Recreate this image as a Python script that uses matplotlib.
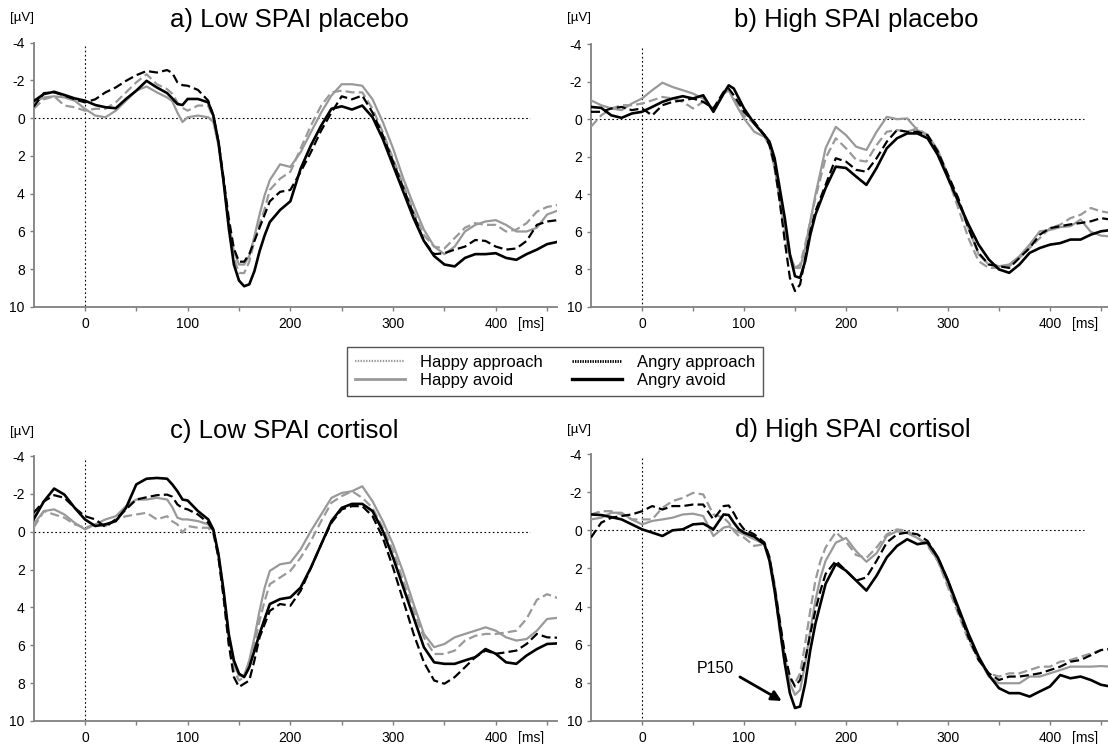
import matplotlib
matplotlib.use('Agg')
import matplotlib.pyplot as plt
from matplotlib.lines import Line2D
from matplotlib.transforms import blended_transform_factory

plt.rcParams['font.family'] = ['Liberation Sans', 'DejaVu Sans']
plt.rcParams['lines.scale_dashes'] = False

# ---------------- data ----------------
time_ms = [-50, -40, -30, -20, -10, 0, 10, 20, 30, 40, 50, 60, 70, 80, 85, 90, 95, 100, 110, 120,
           125, 130, 135, 140, 145, 150, 155, 160, 165, 170, 175, 180,
           190, 200, 210, 220, 230, 240, 250, 260, 270, 280, 290, 300, 310, 320, 330, 340,
           350, 360, 370, 380, 390, 400, 410, 420, 430, 440, 450, 460]

series_labels = ['Happy approach', 'Happy avoid', 'Angry approach', 'Angry avoid']
panel_titles = ['a) Low SPAI placebo', 'b) High SPAI placebo', 'c) Low SPAI cortisol', 'd) High SPAI cortisol']

x_ticks = [0, 50, 100, 150, 200, 250, 300, 350, 400, 450]
x_tick_labels = ['0', '', '100', '', '200', '', '300', '', '400', '']
y_ticks = [-4, -2, 0, 2, 4, 6, 8, 10]

# a) Low SPAI placebo
a_happy_approach = [-0.5, -1.0, -1.16, -0.67, -0.58, -0.4, -0.5, -0.5, -0.84, -1.37, -1.9, -2.33, -1.8, -1.54, -1.3, -0.84, -0.55, -0.4, -0.67, -0.67,
                    0.03, 1.26, 3.37, 5.65, 7.4, 8.2, 8.2, 7.6, 6.5, 5.6, 4.8, 3.8,
                    3.2, 2.84, 1.6, 0.39, -0.67, -1.37, -1.46, -1.37, -1.37, -0.5, 0.74, 2.14, 3.54, 4.95, 6.2, 6.8,
                    6.9, 6.35, 5.8, 5.56, 5.65, 5.65, 6.0, 5.9, 5.56, 4.95, 4.7, 4.6]
a_happy_avoid = [-0.84, -1.1, -1.16, -1.1, -0.93, -0.5, -0.14, -0.05, -0.4, -0.93, -1.46, -1.68, -1.37, -1.1, -0.9, -0.3, 0.2, -0.05, -0.14, -0.05,
                 0.2, 1.44, 3.37, 5.5, 7.05, 7.75, 7.75, 7.3, 6.26, 5.1, 4.07, 3.28,
                 2.44, 2.58, 1.8, 0.74, -0.3, -1.2, -1.8, -1.8, -1.72, -1.0, 0.2, 1.6, 3.2, 4.6, 5.9, 6.8,
                 7.2, 6.8, 6.0, 5.65, 5.47, 5.4, 5.65, 6.0, 6.0, 5.8, 5.1, 4.9]
a_angry_approach = [-0.6, -1.33, -1.37, -1.2, -1.0, -0.84, -1.0, -1.37, -1.63, -1.98, -2.28, -2.5, -2.42, -2.55, -2.4, -1.9, -1.75, -1.72, -1.5, -0.93,
                    -0.14, 1.26, 3.2, 5.3, 6.9, 7.6, 7.6, 7.2, 6.5, 5.8, 5.1, 4.4,
                    3.9, 3.8, 2.84, 1.8, 0.65, -0.3, -1.16, -1.0, -1.2, -0.3, 0.9, 2.3, 3.7, 5.1, 6.5, 7.2,
                    7.15, 6.96, 6.8, 6.45, 6.5, 6.8, 6.96, 6.9, 6.5, 5.65, 5.47, 5.4]
a_angry_avoid = [-0.9, -1.28, -1.4, -1.23, -1.05, -0.93, -0.7, -0.58, -0.53, -1.02, -1.46, -1.98, -1.63, -1.33, -1.05, -0.75, -0.7, -1.02, -1.02, -0.84,
                 -0.14, 1.26, 3.37, 5.8, 7.75, 8.6, 8.9, 8.8, 8.1, 7.05, 6.2, 5.5,
                 4.86, 4.4, 2.67, 1.44, 0.39, -0.5, -0.63, -0.46, -0.67, -0.05, 1.1, 2.5, 3.9, 5.3, 6.5, 7.3,
                 7.75, 7.85, 7.4, 7.2, 7.2, 7.15, 7.4, 7.5, 7.2, 6.96, 6.67, 6.55]

# b) High SPAI placebo
b_happy_approach = [0.4, -0.2, -0.57, -0.74, -0.74, -0.83, -1.0, -1.18, -1.1, -0.92, -0.57, -0.92, -0.57, -1.36, -1.54, -1.1, -0.65, -0.2, 0.23, 0.85,
                    1.38, 2.6, 4.38, 6.15, 7.39, 7.92, 7.74, 6.68, 5.44, 4.2, 3.14, 2.08,
                    1.02, 1.55, 2.17, 2.26, 1.38, 0.67, 0.58, 0.67, 0.49, 0.85, 1.9, 3.14, 4.73, 6.33, 7.56, 7.92,
                    7.92, 7.83, 7.39, 6.86, 6.33, 5.8, 5.62, 5.27, 5.09, 4.73, 4.91, 5.0]
b_happy_avoid = [-1.0, -0.74, -0.57, -0.48, -0.83, -1.1, -1.54, -1.94, -1.71, -1.54, -1.36, -1.1, -0.48, -1.36, -1.54, -1.0, -0.5, -0.04, 0.67, 0.94,
                 1.38, 2.6, 4.2, 5.8, 7.2, 7.92, 7.92, 6.86, 5.44, 4.03, 2.8, 1.55,
                 0.41, 0.85, 1.47, 1.64, 0.67, -0.12, 0.0, -0.04, 0.58, 0.85, 1.64, 2.97, 4.38, 5.8, 7.2, 7.74,
                 7.83, 7.74, 7.3, 6.68, 5.97, 5.9, 5.75, 5.7, 5.35, 6.0, 6.2, 6.25]
b_angry_approach = [-0.39, -0.39, -0.57, -0.65, -0.48, -0.57, -0.2, -0.74, -0.92, -1.0, -1.1, -0.92, -0.57, -1.45, -1.63, -1.27, -0.85, -0.39, 0.14, 0.85,
                    1.38, 2.44, 4.38, 6.5, 8.45, 9.15, 8.8, 7.39, 5.97, 4.91, 4.2, 3.5,
                    2.08, 2.26, 2.7, 2.8, 2.08, 1.2, 0.58, 0.67, 0.67, 0.85, 1.73, 2.97, 4.2, 5.8, 7.12, 7.74,
                    7.83, 7.92, 7.39, 6.86, 6.15, 5.8, 5.7, 5.6, 5.53, 5.44, 5.27, 5.35]
b_angry_avoid = [-0.65, -0.6, -0.2, -0.07, -0.3, -0.39, -0.65, -0.92, -1.1, -1.22, -1.1, -1.27, -0.39, -1.36, -1.8, -1.63, -1.1, -0.57, 0.23, 0.85,
                 1.2, 2.08, 3.67, 5.27, 7.2, 8.36, 8.45, 7.56, 6.15, 5.09, 4.38, 3.67,
                 2.53, 2.6, 3.06, 3.5, 2.6, 1.55, 1.02, 0.76, 0.76, 1.02, 1.9, 3.14, 4.38, 5.6, 6.68, 7.47,
                 8.0, 8.18, 7.74, 7.12, 6.86, 6.68, 6.6, 6.41, 6.41, 6.15, 5.97, 5.9]

# c) Low SPAI cortisol
c_happy_approach = [-0.21, -1.09, -0.91, -0.74, -0.39, -0.21, -0.39, -0.3, -0.65, -0.82, -0.91, -1.0, -0.65, -0.82, -0.55, -0.39, 0.05, -0.3, -0.21, -0.21,
                    0.14, 1.37, 3.47, 5.93, 7.33, 7.86, 7.68, 7.16, 5.93, 4.7, 3.65, 2.77,
                    2.42, 2.07, 1.37, 0.49, -0.56, -1.53, -1.88, -2.14, -1.79, -1.26, -0.21, 1.02, 2.6, 4.18, 5.58, 6.46,
                    6.46, 6.28, 5.75, 5.5, 5.4, 5.4, 5.32, 5.23, 4.6, 3.6, 3.3, 3.5]
c_happy_avoid = [-0.39, -1.09, -1.18, -0.91, -0.47, -0.12, -0.39, -0.65, -0.82, -1.35, -1.7, -1.7, -1.79, -1.7, -1.3, -0.74, -0.65, -0.65, -0.56, -0.39,
                 -0.04, 1.19, 3.12, 5.58, 6.98, 7.6, 7.6, 6.8, 5.58, 4.18, 2.95, 2.07,
                 1.72, 1.63, 0.93, -0.04, -0.91, -1.79, -2.05, -2.14, -2.4, -1.61, -0.56, 0.67, 2.16, 3.82, 5.4, 6.1,
                 5.93, 5.58, 5.4, 5.23, 5.05, 5.23, 5.58, 5.75, 5.67, 5.23, 4.61, 4.55]
c_angry_approach = [-1.0, -1.6, -1.93, -1.79, -1.26, -0.82, -0.65, -0.25, -0.65, -1.18, -1.7, -1.82, -1.93, -1.96, -1.85, -1.44, -1.25, -1.18, -0.91, -0.47,
                    -0.04, 1.37, 3.47, 5.93, 7.68, 8.2, 8.03, 7.86, 6.8, 5.58, 4.88, 4.18,
                    3.82, 3.91, 3.12, 1.9, 0.67, -0.47, -1.18, -1.35, -1.35, -0.82, 0.32, 1.9, 3.65, 5.4, 6.9, 7.86,
                    8.03, 7.68, 7.16, 6.63, 6.28, 6.45, 6.37, 6.28, 5.93, 5.4, 5.58, 5.6]
c_angry_avoid = [-0.65, -1.6, -2.28, -1.96, -1.26, -0.65, -0.3, -0.39, -0.56, -1.26, -2.5, -2.8, -2.84, -2.8, -2.5, -2.14, -1.7, -1.65, -1.09, -0.65,
                 -0.12, 1.19, 3.12, 5.4, 6.8, 7.5, 7.68, 7.16, 6.28, 5.4, 4.6, 3.82,
                 3.56, 3.47, 2.95, 1.9, 0.67, -0.56, -1.26, -1.47, -1.47, -1.09, -0.04, 1.37, 2.95, 4.53, 6.1, 6.9,
                 6.98, 6.98, 6.8, 6.63, 6.2, 6.45, 6.9, 6.98, 6.54, 6.2, 5.93, 5.9]

# d) High SPAI cortisol
d_happy_approach = [-0.83, -1.0, -1.0, -0.83, -0.57, -0.57, -0.57, -1.18, -1.53, -1.7, -1.96, -1.88, -0.83, -0.66, -0.4, 0.03, 0.3, 0.38, 0.82, 0.73,
                    1.42, 3.16, 5.24, 6.98, 7.85, 8.02, 7.5, 5.94, 4.2, 2.64, 1.6, 0.9,
                    0.1, 0.6, 1.3, 1.45, 0.9, 0.21, -0.05, 0.03, 0.38, 0.82, 1.6, 2.99, 4.38, 5.77, 6.8, 7.5,
                    7.67, 7.5, 7.5, 7.33, 7.15, 7.15, 6.89, 6.8, 6.63, 6.46, 6.28, 6.25]
d_happy_avoid = [-0.57, -0.66, -0.92, -0.92, -0.57, -0.31, -0.49, -0.57, -0.66, -0.83, -0.87, -0.75, 0.3, -0.14, -0.2, -0.05, 0.1, 0.21, 0.47, 0.73,
                 1.42, 2.81, 4.72, 6.63, 8.02, 8.63, 8.37, 6.98, 5.24, 3.68, 2.47, 1.6,
                 0.65, 0.4, 1.1, 1.65, 1.2, 0.3, 0.05, 0.15, 0.4, 0.73, 1.6, 2.81, 4.2, 5.59, 6.72, 7.67,
                 8.02, 8.02, 8.02, 7.67, 7.67, 7.5, 7.33, 7.15, 7.15, 7.15, 7.12, 7.15]
d_angry_approach = [0.38, -0.4, -0.66, -0.75, -0.83, -1.0, -1.27, -1.09, -1.27, -1.27, -1.35, -1.35, -0.57, -1.27, -1.3, -0.9, -0.4, -0.05, 0.21, 0.64,
                    1.42, 2.99, 4.72, 6.46, 7.67, 8.19, 7.85, 6.8, 5.42, 4.2, 3.16, 2.29,
                    1.6, 2.12, 2.64, 2.47, 1.6, 0.64, 0.21, 0.12, 0.21, 0.56, 1.42, 2.64, 4.2, 5.59, 6.8, 7.5,
                    7.85, 7.67, 7.67, 7.59, 7.5, 7.33, 7.15, 6.89, 6.8, 6.55, 6.28, 6.2]
d_angry_avoid = [-0.83, -0.8, -0.69, -0.57, -0.31, -0.05, 0.12, 0.3, 0.0, -0.05, -0.31, -0.35, -0.05, -0.83, -0.8, -0.4, -0.05, 0.12, 0.33, 0.73,
                 1.6, 3.16, 5.07, 6.98, 8.54, 9.32, 9.24, 8.02, 6.28, 4.9, 3.85, 2.81,
                 1.77, 2.12, 2.64, 3.16, 2.38, 1.42, 0.82, 0.47, 0.73, 0.64, 1.42, 2.64, 4.03, 5.42, 6.63, 7.59,
                 8.28, 8.54, 8.54, 8.72, 8.45, 8.19, 7.59, 7.76, 7.67, 7.85, 8.1, 8.2]

panel_data = [
    [a_happy_approach, a_happy_avoid, a_angry_approach, a_angry_avoid],
    [b_happy_approach, b_happy_avoid, b_angry_approach, b_angry_avoid],
    [c_happy_approach, c_happy_avoid, c_angry_approach, c_angry_avoid],
    [d_happy_approach, d_happy_avoid, d_angry_approach, d_angry_avoid],
]

# ---------------- style ----------------
GRAY = '#999999'
AXCOL = '#808080'
styles = [
    dict(color=GRAY, lw=1.6, dashes=(6.5, 3.0)),
    dict(color=GRAY, lw=1.6, linestyle='-'),
    dict(color='black', lw=1.6, dashes=(6.5, 3.0)),
    dict(color='black', lw=1.9, linestyle='-'),
]

W, H = 1108, 744
fig = plt.figure(figsize=(W / 100, H / 100), dpi=100)


def px_axes(left, top, right, bottom):
    return fig.add_axes([left / W, 1 - bottom / H, (right - left) / W, (bottom - top) / H])


# axes rectangles in pixels (left, top, right, bottom)
rects = [(33.6, 42.7, 557.4, 307.0),
         (591.0, 44.0, 1111.2, 307.0),
         (33.6, 456.0, 557.4, 721.0),
         (591.0, 454.0, 1111.2, 721.0)]
title_pos = [(289, 27), (856, 27), (284, 438), (853, 437)]
uv_pos = [(21.7, 18), (579, 18), (21.7, 432), (579, 430)]

axes = []
for i, rect in enumerate(rects):
    ax = px_axes(*rect)
    axes.append(ax)
    for k in range(4):
        ax.plot(time_ms, panel_data[i][k], zorder=3 + k, solid_joinstyle='round', **styles[k])
    # reference lines
    ax.plot([-50, 433], [0, 0], color='black', lw=0.8, linestyle=(0, (1.2, 1.8)), zorder=2)
    ax.plot([0, 0], [-3.8, 10], color='black', lw=0.8, linestyle=(0, (1.2, 1.8)), zorder=2)

    ax.set_xlim(-50, 460)
    ax.set_ylim(10, -4)
    ax.set_xticks(x_ticks)
    ax.set_xticklabels(x_tick_labels)
    ax.set_yticks(y_ticks)
    ax.set_yticklabels([str(v) for v in y_ticks])
    for s in ['top', 'right']:
        ax.spines[s].set_visible(False)
    for s in ['left', 'bottom']:
        ax.spines[s].set_color(AXCOL)
        ax.spines[s].set_linewidth(1.3)
    ax.tick_params(axis='x', direction='out', length=3.0, width=1.0, color=AXCOL,
                   labelsize=10, labelcolor='black', pad=3.9)
    ax.tick_params(axis='y', direction='out', length=3.0, width=1.0, color=AXCOL,
                   labelsize=10, labelcolor='black', pad=3.3)
    ax.patch.set_alpha(0)
    trans = blended_transform_factory(ax.transData, ax.transAxes)
    ax.annotate('[ms]', xy=(434, 0), xycoords=trans, xytext=(0, -6.9), textcoords='offset points',
                ha='center', va='top', fontsize=10, color='black')

    tx, ty = title_pos[i]
    fig.text(tx / W, 1 - ty / H, panel_titles[i], ha='center', va='baseline', fontsize=18.5)
    ux, uy = uv_pos[i]
    fig.text(ux / W, 1 - uy / H, '[µV]', ha='center', va='center', fontsize=9.5)

# P150 annotation on panel d
axd = axes[3]
axd.text(71.6, 7.27, 'P150', ha='center', va='center', fontsize=11.5)
axd.annotate('', xy=(137, 8.95), xytext=(96, 7.69),
             arrowprops=dict(arrowstyle='-|>', color='black', lw=2.0, mutation_scale=15,
                             shrinkA=0, shrinkB=0))

# legend
handles = [
    Line2D([], [], color=GRAY, lw=1.6, linestyle=(0, (1, 1))),
    Line2D([], [], color=GRAY, lw=2.0, linestyle='-'),
    Line2D([], [], color='black', lw=2.0, linestyle=(0, (1, 0.8))),
    Line2D([], [], color='black', lw=2.4, linestyle='-'),
]
leg = fig.legend(handles, series_labels, ncol=2, loc='center',
                 bbox_to_anchor=(555 / W, 1 - 371.5 / H), fontsize=12,
                 frameon=True, fancybox=False, shadow=False, framealpha=1,
                 edgecolor='#555555', handlelength=3.0, handletextpad=0.9,
                 columnspacing=1.8, labelspacing=0.22, borderpad=0.45)
leg.get_frame().set_linewidth(1.0)

fig.savefig('out.png', dpi=100)
